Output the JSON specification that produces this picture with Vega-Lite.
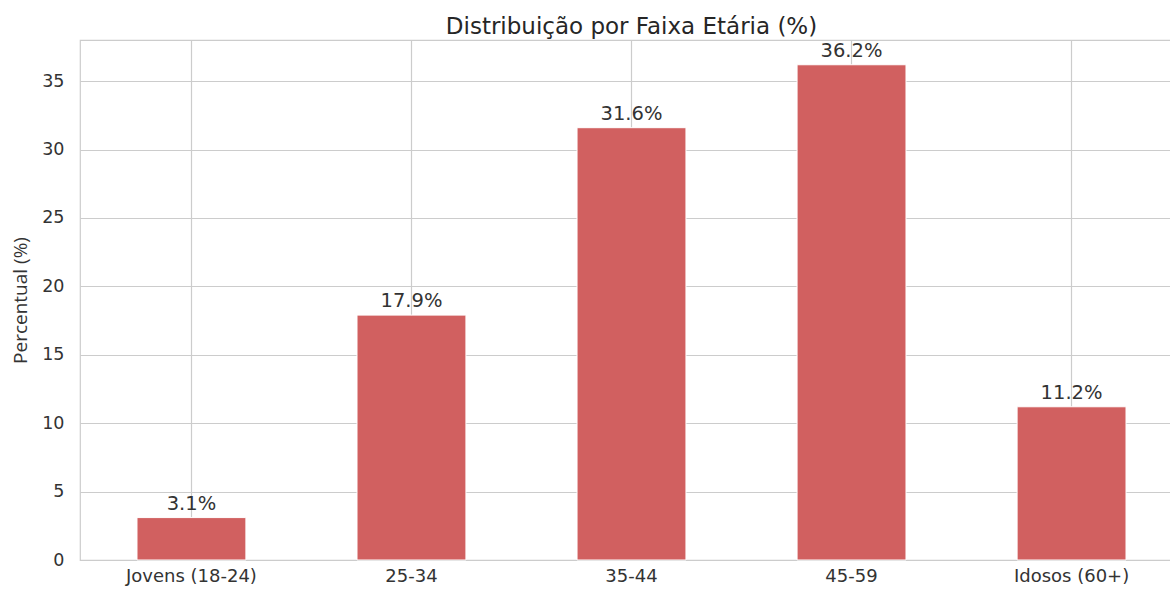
{
  "$schema": "https://vega.github.io/schema/vega-lite/v6.json",
  "autosize": "none",
  "width": 1103,
  "height": 520,
  "padding": {"left": 80, "top": 40, "right": -13, "bottom": 30},
  "background": "white",
  "config": {
    "view": {"stroke": "#cccccc", "strokeWidth": 1.2},
    "font": "DejaVu Sans"
  },
  "title": {
    "text": "Distribuição por Faixa Etária (%)",
    "font": "DejaVu Sans",
    "fontSize": 23,
    "fontWeight": "normal",
    "color": "#262626",
    "offset": 1
  },
  "data": {
    "values": [
      {"faixa": "Jovens (18-24)", "pct": 3.1},
      {"faixa": "25-34", "pct": 17.9},
      {"faixa": "35-44", "pct": 31.6},
      {"faixa": "45-59", "pct": 36.2},
      {"faixa": "Idosos (60+)", "pct": 11.2}
    ]
  },
  "encoding": {
    "x": {
      "field": "faixa",
      "type": "nominal",
      "sort": null,
      "scale": {"paddingInner": 0.505, "paddingOuter": 0.259},
      "axis": {
        "title": null,
        "labelAngle": 0,
        "labelFontSize": 18,
        "labelColor": "#333333",
        "labelPadding": 7,
        "ticks": false,
        "domain": false,
        "grid": true,
        "gridColor": "#cccccc",
        "gridWidth": 1.2,
        "bandPosition": 0.5
      }
    },
    "y": {
      "field": "pct",
      "type": "quantitative",
      "scale": {"domain": [0, 38.01], "nice": false},
      "axis": {
        "title": "Percentual (%)",
        "titleFont": "Open Sans",
        "titleFontSize": 19,
        "titleFontWeight": "normal",
        "titleColor": "#333333",
        "titlePadding": 11,
        "values": [0, 5, 10, 15, 20, 25, 30, 35],
        "labelFontSize": 17.5,
        "labelColor": "#333333",
        "labelPadding": 16,
        "ticks": false,
        "domain": false,
        "gridColor": "#cccccc",
        "gridWidth": 1.2
      }
    }
  },
  "layer": [
    {
      "mark": {"type": "bar", "color": "#d16060", "stroke": "white", "strokeWidth": 1}
    },
    {
      "mark": {"type": "text", "baseline": "alphabetic", "dy": -8, "fontSize": 19.5, "color": "#333333", "font": "DejaVu Sans"},
      "encoding": {
        "text": {"field": "label", "type": "nominal"}
      },
      "transform": [{"calculate": "format(datum.pct, '.1f') + '%'", "as": "label"}]
    }
  ]
}
